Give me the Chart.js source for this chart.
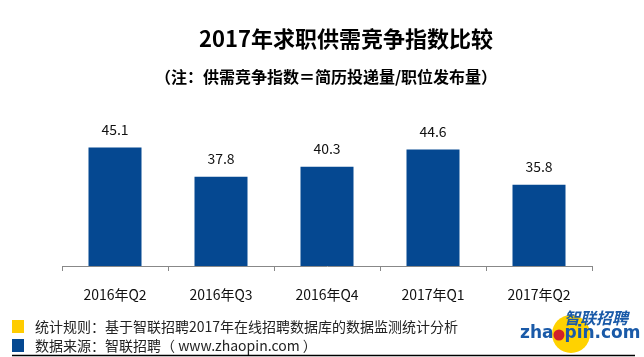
<!DOCTYPE html>
<html><head><meta charset="utf-8">
<script src="https://cdn.jsdelivr.net/npm/chart.js@4/dist/chart.umd.min.js"></script>
<style>html,body{margin:0;padding:0;background:#fff}#wrap{width:644px;height:357px}</style>
</head><body><div id="wrap"><canvas id="c" width="644" height="357"></canvas></div>
<script>
const categories = ['2016年Q2','2016年Q3','2016年Q4','2017年Q1','2017年Q2'];
const values = [45.1, 37.8, 40.3, 44.6, 35.8];
const titleText = '2017年求职供需竞争指数比较';
const subtitleText = '（注：供需竞争指数＝简历投递量/职位发布量）';
const footerLines = ['统计规则：基于智联招聘2017年在线招聘数据库的数据监测统计分析','数据来源：智联招聘（ www.zhaopin.com ）'];
const footerColors = ['#FFCC00','#054891'];

const FONT = '"Noto Sans CJK SC", "Noto Sans", sans-serif';
const BLUE = '#054891';

const decor = {
  id: 'decor',
  afterDatasetsDraw(chart) {
    const ctx = chart.ctx;
    ctx.save();
    const meta = chart.getDatasetMeta(0);
    ctx.font = '14px ' + FONT;
    ctx.fillStyle = '#111';
    ctx.textAlign = 'center';
    ctx.textBaseline = 'middle';
    meta.data.forEach((bar, i) => {
      ctx.fillText(String(values[i].toFixed(1)), bar.x, bar.y - 18);
    });
    ctx.restore();
  },
  afterDraw(chart) {
    const ctx = chart.ctx;
    ctx.save();
    ctx.fillStyle = '#000';
    ctx.textAlign = 'center';
    ctx.textBaseline = 'middle';
    ctx.font = 'bold 22px ' + FONT;
    ctx.fillText(titleText, 346, 39);
    ctx.font = 'bold 16px ' + FONT;
    ctx.fillText(subtitleText, 326, 77);
    ctx.textAlign = 'left';
    ctx.font = '14px ' + FONT;
    const ys = [327, 346];
    footerLines.forEach((t, i) => {
      ctx.fillStyle = footerColors[i];
      ctx.fillRect(12, ys[i] - 7, 12, 13);
      ctx.fillStyle = '#222';
      ctx.fillText(t, 35, ys[i]);
    });
    ctx.strokeStyle = '#000';
    ctx.lineWidth = 1.5;
    ctx.beginPath(); ctx.moveTo(12, 355.5); ctx.lineTo(635, 355.5); ctx.stroke();
    ctx.fillStyle = '#FFD200';
    ctx.beginPath(); ctx.arc(571, 334, 19, 0, Math.PI * 2); ctx.fill();
    ctx.fillStyle = '#1A5AA8';
    ctx.font = 'italic bold 16px ' + FONT;
    ctx.textAlign = 'left';
    ctx.fillText('智联招聘', 564, 318);
    ctx.font = 'bold 17px "DejaVu Sans", sans-serif';
    ctx.fillText('zha', 520, 334);
    const w1 = ctx.measureText('zha').width;
    ctx.fillStyle = '#D0202A';
    ctx.beginPath(); ctx.arc(520 + w1 + 5.5, 335, 5.5, 0, Math.PI * 2); ctx.fill();
    ctx.fillStyle = '#1A5AA8';
    ctx.fillText('pin.com', 520 + w1 + 11, 334);
    ctx.restore();
  }
};

new Chart(document.getElementById('c'), {
  type: 'bar',
  data: {
    labels: categories,
    datasets: [{ data: values, backgroundColor: BLUE, categoryPercentage: 1, barPercentage: 0.5 }]
  },
  options: {
    responsive: false,
    animation: false,
    devicePixelRatio: 1,
    layout: { padding: { left: 62, right: 52, top: 108, bottom: 51 } },
    plugins: { legend: { display: false }, tooltip: { enabled: false }, title: { display: false } },
    scales: {
      x: {
        afterFit(scale) { scale.height = 40; },
        grid: { display: true, drawOnChartArea: false, offset: true, tickLength: 5, color: '#888' },
        border: { display: true, color: '#888', width: 1 },
        ticks: { color: '#111', font: { size: 14, family: FONT }, padding: 15, maxRotation: 0 }
      },
      y: { display: false, min: 15.45, max: 55 }
    }
  },
  plugins: [decor]
});
</script></body></html>
